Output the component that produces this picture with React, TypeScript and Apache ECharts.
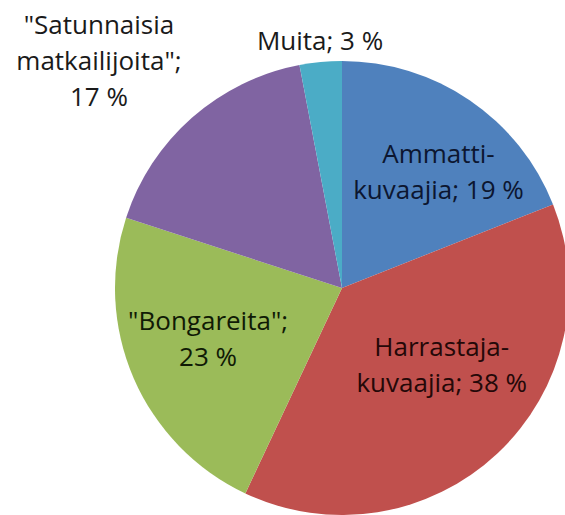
import React, { useEffect, useRef } from "react";
import * as echarts from "echarts";

const categories = [
  "Ammatti-\nkuvaajia",
  "Harrastaja-\nkuvaajia",
  "\"Bongareita\"",
  "\"Satunnaisia\nmatkailijoita\"",
  "Muita",
];
const values = [19, 38, 23, 17, 3];

// layout/style (not data)
const separators = [" ", " ", "\n", "\n", " "];
const colors = ["#4F81BD", "#C0504D", "#9BBB59", "#8064A2", "#4BACC6"];
const textColors = ["#0c1630", "#240808", "#101a05", "#1a1a1a", "#1a1a1a"];
const labelOffsets: [number, number][] = [
  [31, -21],
  [20, -9],
  [-27, 4],
  [-166, -141],
  [-11, -132],
];

export default function App() {
  const ref = useRef<HTMLDivElement>(null);
  useEffect(() => {
    if (!ref.current) return;
    const chart = echarts.init(ref.current, null, { renderer: "svg" });
    chart.setOption({
      animation: false,
      backgroundColor: "#ffffff",
      series: [
        {
          type: "pie",
          center: [342, 288],
          radius: 227,
          startAngle: 90,
          clockwise: true,
          avoidLabelOverlap: false,
          labelLine: { show: false },
          label: {
            show: true,
            position: "inside",
            fontFamily: "Open Sans",
            fontSize: 26,
            lineHeight: 36,
            align: "center",
          },
          labelLayout: (p: any) => ({
            dx: labelOffsets[p.dataIndex][0],
            dy: labelOffsets[p.dataIndex][1],
          }),
          data: categories.map((name, i) => ({
            name,
            value: values[i],
            itemStyle: { color: colors[i] },
            label: {
              color: textColors[i],
              formatter: `${name};${separators[i]}${values[i]} %`,
            },
          })),
        },
      ],
    });
    return () => chart.dispose();
  }, []);
  return (
    <div
      ref={ref}
      style={{ position: "absolute", left: 0, top: 0, width: 565, height: 515 }}
    />
  );
}
